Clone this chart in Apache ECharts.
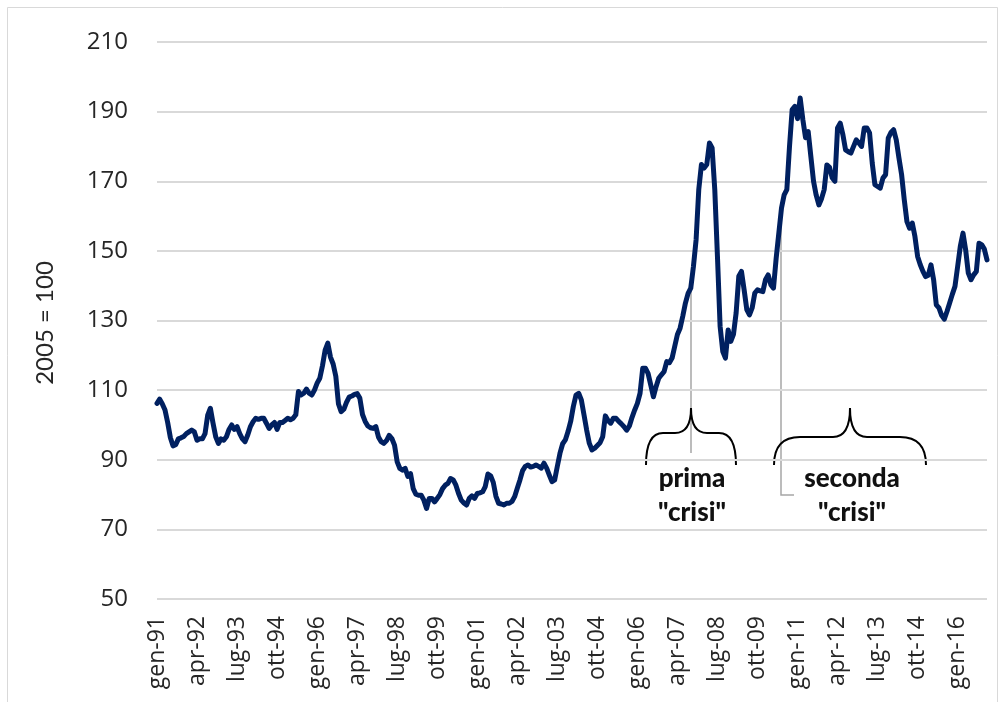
<!DOCTYPE html>
<html>
<head>
<meta charset="utf-8">
<script src="https://cdn.jsdelivr.net/npm/echarts@6/dist/echarts.min.js"></script>
<style>
  html, body { margin: 0; padding: 0; background: #fff; }
  #chart { width: 1005px; height: 702px; }
</style>
</head>
<body>
<div id="chart"></div>
<script>
// monthly index, 2005 = 100, Jan 1991 - Dec 2016
var monthNames = ['gen', 'feb', 'mar', 'apr', 'mag', 'giu', 'lug', 'ago', 'set', 'ott', 'nov', 'dic'];
var firstYear = 1991;

var y1991 = [106.2, 107.4, 106, 104.3, 100.7, 96.4, 94, 94.3, 96, 96.3, 96.7, 97.5];
var y1992 = [98, 98.5, 98, 95.6, 96, 96, 97.5, 102.8, 104.8, 100.5, 96.6, 94.7];
var y1993 = [96, 95.6, 96.6, 98.7, 100, 98.7, 99.5, 97.5, 96, 95.2, 97.1, 99.5];
var y1994 = [100.9, 101.9, 101.6, 101.9, 101.9, 100.5, 99, 100, 100.7, 98.7, 100.7, 100.7];
var y1995 = [101.3, 101.9, 101.5, 101.9, 102.9, 109.6, 108.6, 109.1, 110.3, 109.1, 108.6, 110];
var y1996 = [112, 113.4, 117, 121.5, 123.5, 119.5, 117.5, 114, 106, 103.8, 104.5, 106.5];
var y1997 = [108, 108.3, 108.8, 109, 107.7, 103, 101, 99.7, 99.2, 99, 99.5, 96.5];
var y1998 = [95.2, 94.7, 95.5, 97, 96.1, 94.2, 89.4, 87.5, 87, 87.5, 85.2, 86];
var y1999 = [81.7, 80.1, 79.8, 79.8, 78.4, 76, 78.9, 78.9, 77.9, 78.9, 80, 81.7];
var y2000 = [82.7, 83.2, 84.6, 84.2, 82.7, 80.3, 78.4, 77.6, 77, 78.9, 79.6, 78.9];
var y2001 = [80.3, 80.5, 80.8, 82.3, 85.9, 85.4, 83.5, 79.5, 77.5, 77.3, 77, 77.5];
var y2002 = [77.5, 78, 79.4, 81.8, 84.2, 86.9, 88.1, 88.5, 87.9, 88.1, 88.5, 88.1];
var y2003 = [87.6, 89, 87.6, 85.6, 83.7, 84.2, 88.1, 91.9, 94.6, 95.7, 98.1, 101];
var y2004 = [105.3, 108.6, 109.1, 107.2, 102.9, 98.5, 94.7, 92.8, 93.3, 94.1, 94.9, 96.6];
var y2005 = [102.6, 101.3, 100.5, 101.9, 101.9, 101, 100.3, 99.5, 98.5, 99.7, 102.2, 104.3];
var y2006 = [106.2, 109.1, 116.3, 116.3, 114.8, 111.5, 108.1, 111, 113.4, 114.4, 115.3, 118.2];
var y2007 = [117.9, 119.2, 122.6, 126, 127.8, 131.2, 135, 137.8, 139.3, 145.5, 153.2, 167.6];
var y2008 = [174.8, 173.8, 174.8, 181, 179.6, 167.6, 148.4, 128.3, 121.1, 119.2, 127.3, 124];
var y2009 = [126, 132.2, 142.7, 144.1, 138.8, 133.1, 131.6, 133.6, 137.9, 138.8, 138.5, 138.3];
var y2010 = [141.7, 143.1, 140.3, 139.3, 147.9, 155.1, 162.3, 166.1, 167.6, 180, 190.6, 191.5];
var y2011 = [188, 193.9, 187.7, 182.5, 184.3, 177.1, 170, 166, 163.2, 165, 167.6, 174.7];
var y2012 = [174, 171, 170, 185.3, 186.7, 183.4, 179, 178.5, 178.1, 180, 181.9, 181];
var y2013 = [180, 185.3, 185.3, 183.9, 175.2, 169, 168.5, 168, 170.9, 171.9, 182.4, 184];
var y2014 = [184.8, 181.9, 176.7, 171.9, 164.7, 158.4, 156.5, 158, 154.1, 148.4, 146, 144.1];
var y2015 = [142.6, 143, 146, 141.7, 134.5, 133.6, 131.5, 130.4, 132.6, 135, 137.5, 139.8];
var y2016 = [145.5, 151.3, 155.1, 150.3, 143.6, 141.7, 143.1, 144.1, 152.2, 151.8, 150.5, 147.4];

var years = [y1991, y1992, y1993, y1994, y1995, y1996, y1997, y1998, y1999, y2000,
  y2001, y2002, y2003, y2004, y2005, y2006, y2007, y2008, y2009, y2010,
  y2011, y2012, y2013, y2014, y2015, y2016];

var values = [];
var categories = [];
years.forEach(function (arr, k) {
  var yy = String(firstYear + k).slice(2);
  arr.forEach(function (v, m) {
    values.push(v);
    categories.push(monthNames[m] + '-' + yy);
  });
});

var yTicks = [50, 70, 90, 110, 130, 150, 170, 190, 210];

var myChart = echarts.init(document.getElementById('chart'));

var braceStyle = { stroke: '#000', lineWidth: 2, fill: null };
var calloutStyle = { stroke: '#a6a6a6', lineWidth: 1.5, fill: null };
var noteFont = { fontFamily: 'Lato', fontWeight: 900, fontSize: 26, fill: '#111', align: 'center', verticalAlign: 'middle' };

// curly brace made of two quarter curves, two straight runs and a pointed tip
function brace(x0, x1, xm, yb, yh, yt, r, r2) {
  var q = function (ax, ay, bx, by, cx, cy) {
    return { type: 'bezierCurve', shape: { x1: ax, y1: ay, x2: bx, y2: by, cpx1: cx, cpy1: cy }, style: braceStyle };
  };
  var l = function (ax, ay, bx, by) {
    return { type: 'line', shape: { x1: ax, y1: ay, x2: bx, y2: by }, style: braceStyle };
  };
  return {
    type: 'group',
    children: [
      q(x0, yb, x0 + r, yh, x0, yh),
      l(x0 + r, yh, xm - r2, yh),
      q(xm - r2, yh, xm, yt, xm, yh),
      q(xm + r2, yh, xm, yt, xm, yh),
      l(xm + r2, yh, x1 - r, yh),
      q(x1 - r, yh, x1, yb, x1, yh)
    ]
  };
}

option = {
  animation: false,
  backgroundColor: '#fff',
  grid: { left: 157, right: 18, top: 42, bottom: 103 },
  xAxis: {
    type: 'category',
    data: categories,
    boundaryGap: false,
    axisLine: { show: false },
    axisTick: { show: false },
    axisLabel: {
      interval: 14,
      rotate: 90,
      margin: 17,
      fontFamily: 'Open Sans',
      fontSize: 23,
      color: '#262626'
    },
    splitLine: { show: false }
  },
  yAxis: {
    type: 'value',
    min: yTicks[0],
    max: yTicks[yTicks.length - 1],
    interval: 20,
    axisLine: { show: false },
    axisTick: { show: false },
    axisLabel: { margin: 29, fontFamily: 'Open Sans', fontSize: 24, color: '#262626' },
    splitLine: { lineStyle: { color: '#d9d9d9', width: 2 } }
  },
  series: [
    {
      type: 'line',
      data: values,
      showSymbol: false,
      smooth: false,
      lineStyle: { color: '#002060', width: 5, join: 'round', cap: 'round' }
    }
  ],
  graphic: [
    { type: 'rect', shape: { x: 7.5, y: 7.5, width: 990, height: 720 }, style: { stroke: '#d9d9d9', lineWidth: 1, fill: null }, silent: true },
    { type: 'text', x: 45, y: 323, rotation: Math.PI / 2,
      style: { text: '2005 = 100', fontFamily: 'Lato', fontSize: 24, fill: '#262626', align: 'center', verticalAlign: 'middle' } },
    // callout lines
    { type: 'polyline', shape: { points: [[691, 290], [691, 453]] }, style: calloutStyle },
    { type: 'polyline', shape: { points: [[781, 226], [781, 495], [794, 495]] }, style: calloutStyle },
    // braces
    brace(646, 736, 691, 465, 433, 408, 17, 16),
    brace(774, 926, 850, 465, 437, 408, 26, 17),
    // labels
    { type: 'text', x: 692, y: 479, style: Object.assign({ text: 'prima' }, noteFont) },
    { type: 'text', x: 692, y: 513, style: Object.assign({ text: '"crisi"' }, noteFont) },
    { type: 'text', x: 852, y: 479, style: Object.assign({ text: 'seconda' }, noteFont) },
    { type: 'text', x: 852, y: 513, style: Object.assign({ text: '"crisi"' }, noteFont) }
  ]
};

myChart.setOption(option);
</script>
</body>
</html>
